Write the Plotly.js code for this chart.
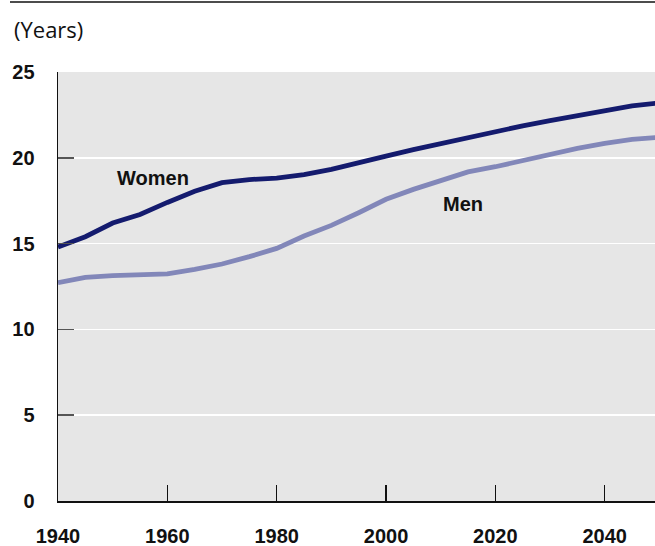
<!DOCTYPE html>
<html>
<head>
<meta charset="utf-8">
<script src="https://cdn.plot.ly/plotly-3.0.1.min.js"></script>
<style>html,body{margin:0;padding:0;background:#fff;}#chart{width:655px;height:546px;}</style>
</head>
<body>
<div id="chart"></div>
<script>
const years = [1940,1945,1950,1955,1960,1965,1970,1975,1980,1985,1990,1995,2000,2005,2010,2015,2020,2025,2030,2035,2040,2045,2050];
const women = [14.8,15.4,16.2,16.7,17.4,18.05,18.55,18.73,18.82,19.02,19.33,19.68,20.1,20.48,20.82,21.22,21.56,21.86,22.16,22.47,22.76,23.02,23.2];
const men   = [12.72,13.03,13.13,13.17,13.23,13.5,13.81,14.24,14.72,15.44,16.06,16.8,17.58,18.16,18.7,19.18,19.48,19.86,20.22,20.55,20.84,21.08,21.2];
const seriesNames = ["Women","Men"];
const xTicks = [1940,1960,1980,2000,2020,2040];
const yTicks = [0,5,10,15,20,25];

const traces = [
  {x: years, y: women, name: seriesNames[0], type: "scatter", mode: "lines",
   line: {color: "#141b6e", width: 4.8}},
  {x: years, y: men, name: seriesNames[1], type: "scatter", mode: "lines",
   line: {color: "#8287b9", width: 4.8}}
];

const layout = {
  width: 655, height: 546,
  margin: {l: 58, r: 0, t: 72, b: 45, pad: 0},
  paper_bgcolor: "#ffffff",
  plot_bgcolor: "#e6e6e6",
  showlegend: false,
  font: {family: "Liberation Sans, Arial, sans-serif", color: "#111"},
  xaxis: {
    range: [1940, 2049.2], tickvals: xTicks, ticktext: xTicks.map(String),
    ticks: "inside", ticklen: 16, tickwidth: 1.5, tickcolor: "#111",
    showline: true, linecolor: "#111", linewidth: 1.6,
    showgrid: false, zeroline: false,
    tickfont: {family: "Liberation Sans, Arial, sans-serif", size: 20, weight: "bold", color: "#111"},
    ticklabelstandoff: 16
  },
  yaxis: {
    range: [0, 25], tickvals: yTicks, ticktext: yTicks.map(String),
    ticks: "inside", ticklen: 16, tickwidth: 1.5, tickcolor: "#555",
    showline: true, linecolor: "#111", linewidth: 1.4,
    showgrid: true, gridcolor: "#ffffff", gridwidth: 1.5,
    zeroline: false,
    tickfont: {family: "Liberation Sans, Arial, sans-serif", size: 20, weight: "bold", color: "#111"},
    ticklabelstandoff: 18
  },
  shapes: [
    {type: "line", xref: "paper", yref: "paper",
     x0: (10-58)/597, x1: 1.0, y0: (501-2)/429, y1: (501-2)/429,
     line: {color: "#111", width: 1.5}}
  ],
  annotations: [
    {xref: "paper", yref: "paper", x: (12-58)/597, y: (501-29)/429,
     xanchor: "left", yanchor: "middle", showarrow: false,
     text: "(Years)", font: {family: "Open Sans, Noto Sans, sans-serif", size: 22, color: "#111"}},
    {x: 1957.4, y: 18.84, xref: "x", yref: "y", showarrow: false,
     text: seriesNames[0], font: {family: "Liberation Sans, Arial, sans-serif", size: 20, weight: "bold", color: "#111"}},
    {x: 2014.15, y: 17.33, xref: "x", yref: "y", showarrow: false,
     text: seriesNames[1], font: {family: "Liberation Sans, Arial, sans-serif", size: 20, weight: "bold", color: "#111"}}
  ]
};

Plotly.newPlot("chart", traces, layout, {displayModeBar: false, staticPlot: true});
</script>
</body>
</html>
